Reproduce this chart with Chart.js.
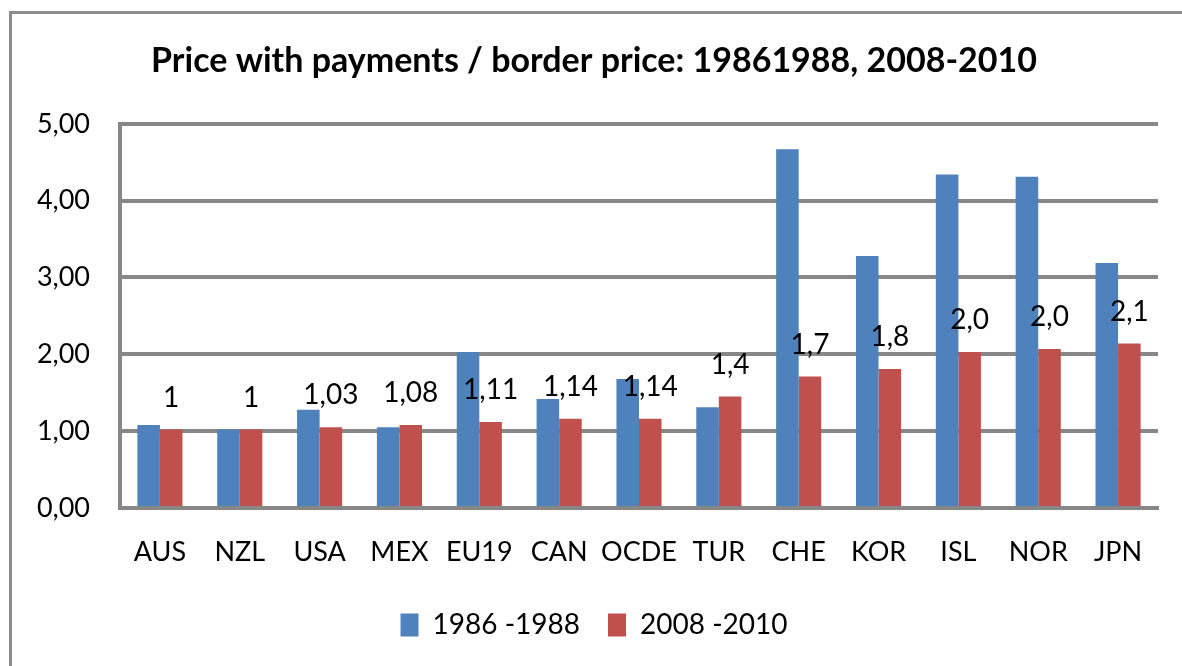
<!DOCTYPE html>
<html>
<head>
<meta charset="utf-8">
<script src="https://cdn.jsdelivr.net/npm/chart.js@4/dist/chart.umd.min.js"></script>
<style>
  html, body { margin: 0; padding: 0; background: #fff; overflow: hidden; }
  #wrap { position: relative; width: 1182px; height: 666px; }
</style>
</head>
<body>
<div id="wrap"><canvas id="chart" width="1182" height="666"></canvas></div>
<script>
// Categories (countries / groups)
const categories = ['AUS', 'NZL', 'USA', 'MEX', 'EU19', 'CAN', 'OCDE', 'TUR', 'CHE', 'KOR', 'ISL', 'NOR', 'JPN'];

// Price with payments / border price, 1986-1988
const values1986 = [1.08, 1.02, 1.28, 1.05, 2.03, 1.42, 1.68, 1.31, 4.67, 3.28, 4.34, 4.31, 3.19];

// Price with payments / border price, 2008-2010
const values2008 = [1.02, 1.02, 1.05, 1.08, 1.12, 1.16, 1.16, 1.45, 1.71, 1.81, 2.03, 2.07, 2.14];

// Data labels shown above the 2008-2010 bars (as written on the original)
const labels2008 = ['1', '1', '1,03', '1,08', '1,11', '1,14', '1,14', '1,4', '1,7', '1,8', '2,0', '2,0', '2,1'];

const seriesNames = ['1986 -1988', '2008 -2010'];
const titleText = 'Price with payments / border price: 19861988, 2008-2010';

const FONT = 'Lato, "Open Sans", sans-serif';
const GRID = '#878787';

// outer grey frame of the chart object
const framePlugin = {
  id: 'frame',
  beforeDraw(chart) {
    const ctx = chart.ctx;
    ctx.save();
    ctx.fillStyle = '#fff';
    ctx.fillRect(0, 0, chart.width, chart.height);
    ctx.strokeStyle = '#8c8c8c';
    ctx.lineWidth = 3;
    ctx.strokeRect(10.5, 12.5, chart.width + 20, chart.height + 20);
    ctx.restore();
  }
};

// value labels above the red bars
const barLabelPlugin = {
  id: 'barLabels',
  afterDatasetsDraw(chart) {
    const ctx = chart.ctx;
    const meta = chart.getDatasetMeta(1);
    ctx.save();
    ctx.font = '28px ' + FONT;
    ctx.fillStyle = '#000';
    ctx.textAlign = 'center';
    ctx.textBaseline = 'middle';
    meta.data.forEach((bar, i) => {
      ctx.fillText(labels2008[i], bar.x, bar.y - 32);
    });
    ctx.restore();
  }
};

new Chart(document.getElementById('chart'), {
  type: 'bar',
  data: {
    labels: categories,
    datasets: [
      {
        label: seriesNames[0],
        data: values1986,
        backgroundColor: '#4F81BD',
        barPercentage: 1,
        categoryPercentage: 0.565
      },
      {
        label: seriesNames[1],
        data: values2008,
        backgroundColor: '#C0504D',
        barPercentage: 1,
        categoryPercentage: 0.565
      }
    ]
  },
  options: {
    responsive: false,
    animation: false,
    layout: { padding: { left: 30, right: 24, top: 0, bottom: 17 } },
    plugins: {
      title: {
        display: true,
        text: titleText,
        color: '#000',
        font: { family: FONT, size: 34, weight: 'bold', lineHeight: 1.2 },
        padding: { top: 41, bottom: 42 }
      },
      legend: {
        position: 'bottom',
        labels: {
          color: '#000',
          font: { family: FONT, size: 28 },
          boxWidth: 18,
          boxHeight: 23,
          padding: 28
        }
      },
      tooltip: { enabled: false }
    },
    scales: {
      x: {
        grid: { display: false },
        border: { display: true, color: GRID, width: 4 },
        ticks: { color: '#000', font: { family: FONT, size: 27 }, padding: 20, maxRotation: 0, autoSkip: false },
        afterFit(scale) { scale.height = 75; }
      },
      y: {
        min: 0,
        max: 5,
        ticks: {
          stepSize: 1,
          color: '#000',
          font: { family: FONT, size: 27 },
          padding: 30,
          callback: v => v.toFixed(2).replace('.', ',')
        },
        grid: { color: GRID, lineWidth: 4, drawTicks: false },
        border: { display: true, color: GRID, width: 4 },
        afterFit(scale) { scale.width = 90; }
      }
    }
  },
  plugins: [framePlugin, barLabelPlugin]
});
</script>
</body>
</html>
